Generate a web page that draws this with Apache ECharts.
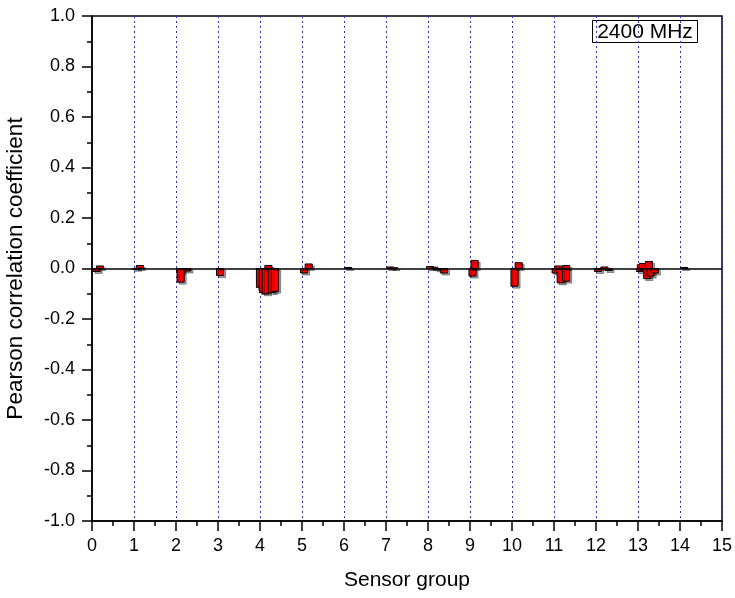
<!DOCTYPE html>
<html>
<head>
<meta charset="utf-8">
<script src="https://cdn.jsdelivr.net/npm/echarts@6/dist/echarts.min.js"></script>
<style>
  html, body { margin: 0; padding: 0; background: #fff; }
  #chart { width: 735px; height: 598px; }
</style>
</head>
<body>
<div id="chart"></div>
<script>
// bar centre positions along the sensor-group axis, and their correlation values
var barX = [
  0.11, 0.19,
  1.05, 1.14,
  2.1, 2.11, 2.27,
  3.05,
  4.0, 4.07, 4.14, 4.2, 4.28, 4.36,
  5.05, 5.16,
  6.1,
  7.1, 7.2,
  8.05, 8.15, 8.25, 8.38,
  9.06, 9.11,
  10.06, 10.16,
  11.04, 11.1, 11.16, 11.29, 11.29,
  12.05, 12.2, 12.3,
  13.05, 13.07, 13.12, 13.26, 13.22, 13.3, 13.4,
  14.1
];
var barY = [
  -0.012, 0.01,
  -0.003, 0.012,
  -0.015, -0.054, -0.01,
  -0.028,
  -0.075, -0.095, -0.1, 0.012, -0.095, -0.09,
  -0.018, 0.018,
  0.004,
  0.006, 0.003,
  0.008, 0.005, -0.005, -0.018,
  -0.03, 0.032,
  -0.07, 0.023,
  -0.018, 0.01, -0.057, 0.012, -0.05,
  -0.012, 0.006, -0.008,
  -0.012, 0.015, 0.02, 0.028, -0.04, -0.03, -0.018,
  0.004
];
var barWidth = 0.17;
var freqLabel = '2400 MHz';

var data = barX.map(function (x, i) { return [x, barY[i]]; });

var chart = echarts.init(document.getElementById('chart'));
var font = 'Liberation Sans, Arial, sans-serif';

var option = {
  animation: false,
  backgroundColor: '#fff',
  grid: {
    left: 92, right: 13, top: 16, bottom: 77, outerBoundsMode: 'none', containLabel: false,
    show: true, borderColor: '#000', borderWidth: 1.5
  },
  xAxis: {
    type: 'value', min: 0, max: 15, interval: 1,
    name: 'Sensor group', nameLocation: 'middle', nameGap: 49,
    nameTextStyle: { fontFamily: font, fontSize: 21, color: '#000' },
    axisLine: { show: true, onZero: false, lineStyle: { color: '#000', width: 1.5 } },
    axisTick: { show: true, inside: false, length: 10, lineStyle: { color: '#000', width: 1.5 } },
    minorTick: { show: true, splitNumber: 2, length: 5, lineStyle: { color: '#000', width: 1.5 } },
    axisLabel: { fontFamily: font, fontSize: 18, color: '#000', margin: 16 },
    splitLine: { show: true, lineStyle: { color: '#3535b8', type: [2, 3], width: 1 } }
  },
  yAxis: {
    type: 'value', min: -1, max: 1, interval: 0.2,
    name: 'Pearson correlation coefficient', nameLocation: 'middle', nameGap: 65,
    nameTextStyle: { fontFamily: font, fontSize: 22.5, color: '#000' },
    axisLine: { show: true, onZero: false, lineStyle: { color: '#000', width: 1.5 } },
    axisTick: { show: true, inside: false, length: 10, lineStyle: { color: '#000', width: 1.5 } },
    minorTick: { show: true, splitNumber: 2, length: 5, lineStyle: { color: '#000', width: 1.5 } },
    axisLabel: {
      fontFamily: font, fontSize: 18, color: '#000', margin: 17,
      formatter: function (v) { return v.toFixed(1); }
    },
    splitLine: { show: false }
  },
  series: [{
    type: 'custom',
    data: data,
    renderItem: function (params, api) {
      var x = api.value(0), y = api.value(1);
      var p0 = api.coord([x - barWidth / 2, 0]);
      var p1 = api.coord([x + barWidth / 2, y]);
      return {
        type: 'rect',
        shape: {
          x: p0[0], y: Math.min(p0[1], p1[1]),
          width: p1[0] - p0[0], height: Math.abs(p1[1] - p0[1])
        },
        style: {
          fill: '#ff0000', stroke: '#000', lineWidth: 1,
          shadowColor: 'rgba(0,0,0,0.35)', shadowOffsetX: 2, shadowOffsetY: 2, shadowBlur: 0
        }
      };
    },
    markLine: {
      silent: true, symbol: 'none', label: { show: false },
      lineStyle: { color: '#000', type: 'solid', width: 1.5 },
      data: [{ yAxis: 0 }]
    },
    z: 3
  }],
  graphic: [{
    type: 'group', left: 592, top: 20,
    children: [
      { type: 'rect', shape: { x: 0, y: 0, width: 105, height: 22 },
        style: { fill: '#fff', stroke: '#000', lineWidth: 1 } },
      { type: 'text', x: 52.5, y: 12,
        style: { text: freqLabel, fontFamily: font, fontSize: 21, fill: '#000', align: 'center', verticalAlign: 'middle' } }
    ]
  }]
};
chart.setOption(option);
</script>
</body>
</html>
